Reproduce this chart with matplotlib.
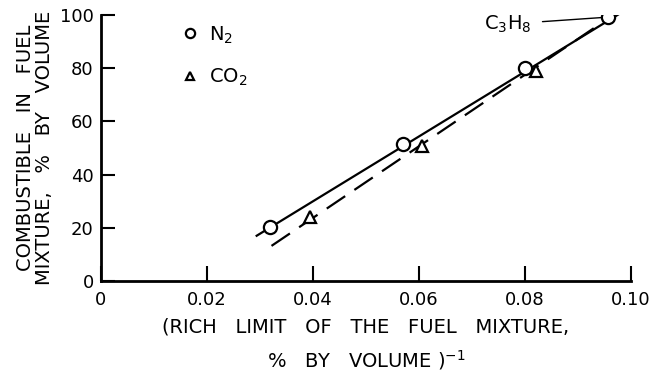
import matplotlib
matplotlib.use('Agg')
import matplotlib.pyplot as plt

# data
n2_x = [0.032, 0.057, 0.080, 0.0957]
n2_y = [20.3, 51.5, 80.2, 99.1]
co2_x = [0.0395, 0.0605, 0.082]
co2_y = [24.3, 50.9, 78.9]

# fitted lines (end points)
n2_fit_x = [0.0294, 0.0976]
n2_fit_y = [17.1, 100.1]
co2_fit_x = [0.0322, 0.0945]
co2_fit_y = [13.3, 97.0]

xticks = [0, 0.02, 0.04, 0.06, 0.08, 0.10]
xticklabels = ['0', '0.02', '0.04', '0.06', '0.08', '0.10']
yticks = [0, 20, 40, 60, 80, 100]

plt.rcParams['font.family'] = ['DejaVu Sans']
plt.rcParams['font.size'] = 13

fig = plt.figure(figsize=(6.54, 3.87), dpi=100)
ax = fig.add_axes([0.154, 0.273, 0.811, 0.689])

ax.plot(n2_fit_x, n2_fit_y, color='black', lw=1.6)
ax.plot(co2_fit_x, co2_fit_y, color='black', lw=1.6, dashes=(10, 5))
ax.plot(n2_x, n2_y, 'o', ms=9.5, mfc='white', mec='black', mew=1.6,
        label='N$_2$')
ax.plot(co2_x, co2_y, '^', ms=8, mfc='white', mec='black', mew=1.6,
        label='CO$_2$')

ax.annotate('C$_3$H$_8$', xy=(n2_x[-1], n2_y[-1]), xytext=(0.0812, 96.5),
            ha='right', va='center', fontsize=14,
            arrowprops=dict(arrowstyle='-', color='black', lw=1.0,
                            shrinkA=6, shrinkB=5))

ax.set_xlim(0, 0.10)
ax.set_ylim(0, 100)
ax.set_xticks(xticks)
ax.set_xticklabels(xticklabels)
ax.set_yticks(yticks)
ax.spines['top'].set_visible(False)
ax.spines['right'].set_visible(False)
ax.spines['left'].set_linewidth(2)
ax.spines['bottom'].set_linewidth(2)
ax.tick_params(axis='x', direction='in', length=11, width=1.5, pad=7)
ax.tick_params(axis='y', direction='in', length=10, width=1.5, pad=5)

ax.set_xlabel('(RICH   LIMIT   OF   THE   FUEL   MIXTURE,\n%   BY   VOLUME )$^{-1}$',
              fontsize=14, linespacing=1.6, labelpad=6)
ax.set_ylabel('COMBUSTIBLE   IN   FUEL\nMIXTURE,   %   BY   VOLUME',
              fontsize=14, linespacing=1.05, labelpad=4)

leg = ax.legend(loc='upper left', bbox_to_anchor=(0.12, 1.03), frameon=False,
                handlelength=0.8, handletextpad=0.6, labelspacing=1.1,
                markerscale=0.7, numpoints=1, fontsize=14)

fig.savefig('out.png', dpi=100)
